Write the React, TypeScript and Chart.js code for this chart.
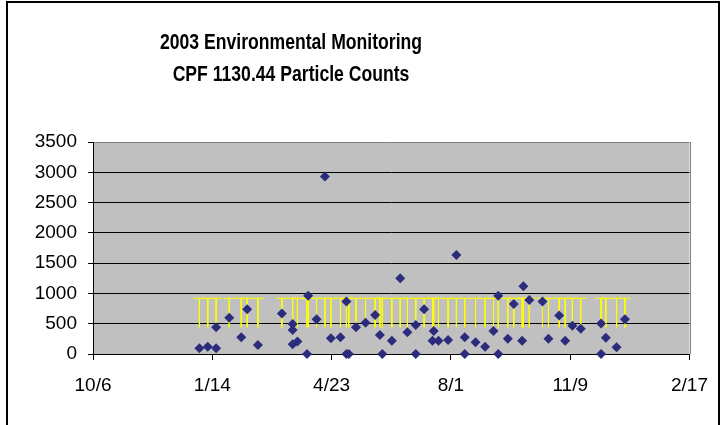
import React, { useEffect, useRef } from 'react';
import { Chart, registerables } from 'chart.js';

Chart.register(...registerables);

// Sample dates as days after 10/6/2002 (the x-axis origin)
const sampleDay = [
  89, 96, 103, 103, 114, 124, 129, 138, 158, 167,
  167, 167, 171, 179, 180, 187, 194, 199, 207, 212,
  212, 214, 220, 228, 236, 240, 242, 250, 257, 263,
  270, 270, 277, 284, 285, 289, 297, 304, 311, 311,
  320, 328, 335, 339, 339, 347, 352, 359, 360, 365,
  376, 381, 390, 395, 401, 408, 425, 425, 429, 438,
  445,
];

const particleCount = [
  95, 120, 95, 440, 600, 275, 740, 150, 670, 495,
  395, 160, 205, 0, 960, 575, 2930, 260, 275, 0,
  865, 0, 440, 515, 645, 315, 0, 220, 1250, 360,
  480, 0, 740, 220, 380, 220, 230, 1635, 275, 0,
  195, 120, 380, 960, 0, 250, 825, 220, 1120, 890,
  865, 250, 635, 220, 465, 415, 0, 505, 270, 110,
  575,
];

const xTickPositions = [0, 99.8, 199.6, 299.4, 399.2, 499];
const xTickLabels = ['10/6', '1/14', '4/23', '8/1', '11/9', '2/17'];
const yMin = 0;
const yMax = 3500;
const yStep = 500;

// yellow limit comb: top level, lower end and half-width (days)
const limitUpper = 920;
const limitLower = 440;
const limitHalfWidth = 5;

const titleLines = ['2003 Environmental Monitoring', 'CPF 1130.44 Particle Counts'];

const FONT = '"Liberation Sans", Arial, sans-serif';

export default function App() {
  const canvasRef = useRef<HTMLCanvasElement | null>(null);

  useEffect(() => {
    const canvas = canvasRef.current;
    if (!canvas) return;

    const uniqueDays = Array.from(new Set(sampleDay)).sort((a, b) => a - b);
    const combData: { x: number; y: number | null }[] = [];
    uniqueDays.forEach((d) => {
      combData.push({ x: d - limitHalfWidth, y: limitUpper });
      combData.push({ x: d + limitHalfWidth, y: limitUpper });
      combData.push({ x: d, y: null });
      combData.push({ x: d, y: limitUpper });
      combData.push({ x: d, y: limitLower });
      combData.push({ x: d, y: null });
    });

    const pointsData = sampleDay.map((x, i) => ({ x, y: particleCount[i] }));

    const plotBg = {
      id: 'plotBg',
      beforeDraw(chart: any) {
        const { ctx, chartArea } = chart;
        ctx.save();
        ctx.fillStyle = '#C0C0C0';
        ctx.fillRect(chartArea.left, chartArea.top, chartArea.right - chartArea.left, chartArea.bottom - chartArea.top);
        ctx.restore();
      },
      beforeDatasetsDraw(chart: any) {
        const { ctx, chartArea } = chart;
        ctx.save();
        ctx.strokeStyle = '#808080';
        ctx.lineWidth = 1;
        ctx.beginPath();
        const r = Math.round(chartArea.right) + 0.5;
        ctx.moveTo(r, Math.round(chartArea.top));
        ctx.lineTo(r, Math.round(chartArea.bottom));
        ctx.stroke();
        ctx.restore();
      },
    };

    const titlePlugin = {
      id: 'leftTitle',
      afterDraw(chart: any) {
        const { ctx } = chart;
        ctx.save();
        ctx.fillStyle = '#000';
        ctx.font = 'bold 22px ' + FONT;
        ctx.textAlign = 'center';
        ctx.textBaseline = 'alphabetic';
        const cx = 291;
        const baselines = [49, 81];
        titleLines.forEach((line, i) => {
          ctx.save();
          ctx.translate(cx, baselines[i]);
          ctx.scale(0.8, 1);
          ctx.fillText(line, 0, 0);
          ctx.restore();
        });
        ctx.restore();
      },
    };

    const chart = new Chart(canvas, {
      type: 'scatter',
      data: {
        datasets: [
          {
            label: 'Particle Counts',
            data: pointsData,
            pointStyle: 'rectRot',
            pointRadius: 5,
            pointHoverRadius: 5,
            pointBackgroundColor: '#2B2C7C',
            pointBorderColor: '#2B2C7C',
            pointBorderWidth: 0,
            showLine: false,
            clip: false,
            order: 1,
          } as any,
          {
            label: 'Limit',
            data: combData,
            showLine: true,
            spanGaps: false,
            borderColor: '#FFFF00',
            borderWidth: 1,
            pointRadius: 0,
            pointHoverRadius: 0,
            clip: false,
            order: 2,
          } as any,
        ],
      },
      options: {
        animation: false,
        responsive: false,
        devicePixelRatio: 1,
        events: [],
        layout: { padding: { left: 10, right: 30, top: 142, bottom: 0 } },
        plugins: {
          legend: { display: false },
          title: { display: false },
          tooltip: { enabled: false },
        },
        scales: {
          x: {
            type: 'linear',
            position: 'bottom',
            min: 0,
            max: 499,
            afterBuildTicks: (axis: any) => {
              axis.ticks = xTickPositions.map((v) => ({ value: v }));
            },
            afterFit: (axis: any) => {
              axis.height = 71;
            },
            ticks: {
              autoSkip: false,
              maxRotation: 0,
              minRotation: 0,
              padding: 14,
              color: '#000',
              font: { family: FONT, size: 19 },
              callback: (_v: any, i: number) => xTickLabels[i],
            },
            grid: {
              drawOnChartArea: false,
              drawTicks: true,
              tickLength: 6,
              tickColor: '#000',
              tickWidth: 1,
            },
            border: { display: true, color: '#000', width: 1 },
          },
          y: {
            type: 'linear',
            min: yMin,
            max: yMax,
            afterFit: (axis: any) => {
              axis.width = 83;
            },
            ticks: {
              stepSize: yStep,
              padding: 11,
              color: '#000',
              font: { family: FONT, size: 19 },
              callback: (v: any) => String(v),
            },
            grid: {
              color: (ctx: any) => (ctx.tick && ctx.tick.value === yMax ? '#808080' : '#000'),
              lineWidth: 1,
              drawTicks: true,
              tickLength: 5,
              tickColor: '#000',
            },
            border: { display: true, color: '#000', width: 1 },
          },
        },
      } as any,
      plugins: [plotBg, titlePlugin],
    });

    return () => chart.destroy();
  }, []);

  return (
    <div style={{ position: 'absolute', left: 0, top: 0, width: 722, height: 425, overflow: 'hidden', background: '#fff' }}>
      <div
        style={{
          position: 'absolute',
          left: 6,
          top: 1,
          width: 714,
          height: 460,
          border: '2px solid #000',
          boxSizing: 'border-box',
        }}
      />
      <canvas ref={canvasRef} width={722} height={425} style={{ position: 'absolute', left: 0, top: 0, width: 722, height: 425 }} />
    </div>
  );
}
